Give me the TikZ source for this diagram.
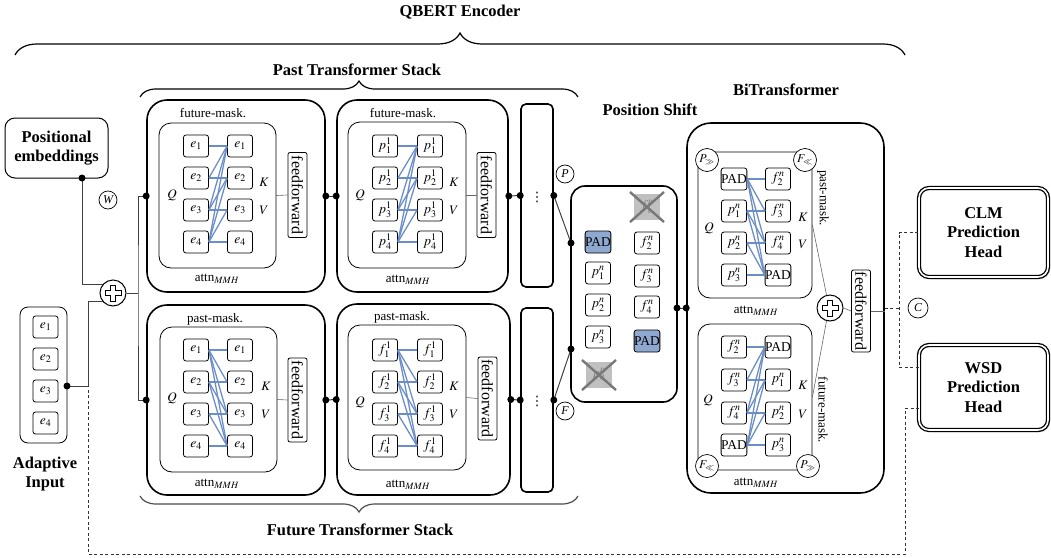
\documentclass[tikz,border=0pt]{standalone}
\usepackage{mathptmx}
\usepackage{fontspec}
\setmainfont{Liberation Serif}
\newfontfamily\djv{DejaVu Sans}
\usetikzlibrary{decorations.pathreplacing,shadows,calc}
\definecolor{attblue}{RGB}{108,142,198}
\definecolor{padblue}{RGB}{143,168,208}
\definecolor{xgray}{RGB}{192,192,192}
\definecolor{xline}{RGB}{120,120,120}
\tikzset{
 sm/.style={font=\fontsize{13}{15}\selectfont},
 big/.style={font=\fontsize{16.5}{19.5}\selectfont\bfseries},
 blkbox/.style={draw, line width=1.6pt, rounded corners=20pt, inner sep=0},
 innbox/.style={draw, line width=0.8pt, rounded corners=12pt, inner sep=0},
 tok/.style={draw, line width=0.8pt, rounded corners=2.5pt, minimum width=25pt, minimum height=22pt, inner sep=0, fill=white, font=\fontsize{13.5}{15}\selectfont},
 padtok/.style={tok, fill=padblue},
 ffbox/.style={draw, line width=0.8pt, rounded corners=2pt, rotate=-90, minimum height=19pt, inner sep=1pt, font=\fontsize{16}{18}\selectfont},
 att/.style={draw=attblue, line width=1.3pt},
 dotn/.style={circle, fill=black, inner sep=0, minimum size=7pt},
 lc/.style={draw, circle, line width=0.7pt, inner sep=0, minimum size=18pt, fill=white, font=\fontsize{12}{14}\selectfont\itshape},
 conn/.style={draw=black!75, line width=1pt},
 thinconn/.style={draw=black!60, line width=0.6pt},
 dconn/.style={draw=black!80, line width=0.9pt, dash pattern=on 3pt off 2.5pt},
 plusc/.style={draw, circle, line width=1pt, minimum size=26pt, inner sep=0, fill=white},
 head/.style={draw, line width=1.3pt, double=white, double distance=1.6pt, rounded corners=10pt, fill=white, drop shadow={shadow xshift=2pt, shadow yshift=-2pt, fill=black!40}, big, align=center, inner sep=0},
 crossbox/.style={fill=xgray, minimum size=26pt, inner sep=0, text=black!50, font=\fontsize{13.5}{15}\selectfont},
 xstroke/.style={draw=xline, line width=2.4pt},
 brc/.style={decorate, decoration={brace, amplitude=#1}, line width=1.2pt},
}
\newcommand\tokcolsym[5]{\foreach \ii in {1,...,4}{\node[tok] (#1\ii) at (#2,{#3+(\ii-1)*#4}) {$#5_{\ii}$};}}
\newcommand\futmask[2]{\foreach \i in {1,...,4}{\foreach \j in {1,...,\i}{\draw[att] (#1\i.east) -- (#2\j.west);}}}
\newcommand\pastmask[2]{\foreach \i in {1,...,4}{\foreach \j in {\i,...,4}{\draw[att] (#1\i.east) -- (#2\j.west);}}}
\newcommand\hollowplus[1]{\draw[line width=0.9pt, shift={(#1.center)}] (-2.6,-8) -- (2.6,-8) -- (2.6,-2.6) -- (8,-2.6) -- (8,2.6) -- (2.6,2.6) -- (2.6,8) -- (-2.6,8) -- (-2.6,2.6) -- (-8,2.6) -- (-8,-2.6) -- (-2.6,-2.6) -- cycle;}
\newcommand\crossout[1]{\draw[xstroke] ($(#1)+(-17,-15)$) -- ($(#1)+(17,15)$); \draw[xstroke] ($(#1)+(-17,15)$) -- ($(#1)+(17,-15)$);}
\begin{document}
\begin{tikzpicture}[x=1pt,y=-1pt]
\useasboundingbox (0,0) rectangle (1051,557);

% ---------- titles and braces ----------
\node[big] (tq) at (460,12) {QBERT Encoder};
\draw[brc=22pt] (15,55) -- (905,55);
\node[big] (tp) at (357,70) {Past Transformer Stack};
\draw[brc=16pt] (140,97) -- (578,97);
\node[big] (tf) at (360,530) {Future Transformer Stack};
\draw[brc=16pt, draw=black!70] (578,496) -- (140,496);
\node[big] (tps) at (650,110) {Position Shift};
\node[big] (tbi) at (786,90) {BiTransformer};

% ---------- inputs ----------
\node[draw, line width=1pt, rounded corners=10pt, minimum width=103pt, minimum height=60pt, big, align=center, inner sep=0] (pos) at (56.5,148) {Positional\\embeddings};
\coordinate (posout) at (82,178);
\node[lc] (W) at (108,200) {W};
\node[draw, line width=0.8pt, rounded corners=8pt, minimum width=47pt, minimum height=136pt] (ai) at (43.5,375) {};
\tokcolsym{ait}{45.5}{327}{32}{e}
\node[big, align=center] (ail) at (45,474) {Adaptive\\Input};
\coordinate (aiout) at (67,386);
\coordinate (aijoin) at (88,386);
\node[plusc] (plusL) at (113,293) {};
\hollowplus{plusL}
\coordinate (bus) at (138,293);

% ---------- past block 1 ----------
\node[blkbox, minimum width=178pt, minimum height=192pt] (pb1) at (236,196) {};
\node[innbox, minimum width=117pt, minimum height=145pt] (pb1i) at (217.5,195.5) {};
\node[sm] (pb1m) at (213,113) {future-mask.};
\tokcolsym{pb1q}{196}{146}{32}{e}
\tokcolsym{pb1k}{240}{146}{32}{e}
\futmask{pb1q}{pb1k}
\node[sm] (pb1Q) at (172,195) {$Q$};
\node[sm] (pb1K) at (264,182) {$K$};
\node[sm] (pb1V) at (264,210) {$V$};
\node[ffbox, minimum width=85pt] (pb1f) at (297.5,195) {feedforward};
\draw[thinconn] (pb1i.east) -- (pb1f.south);
\node[sm] (pb1a) at (217,279) {attn$_{MMH}$};

% ---------- past block 2 ----------
\node[blkbox, minimum width=171pt, minimum height=192pt] (pb2) at (422.5,196) {};
\node[innbox, minimum width=118pt, minimum height=146pt] (pb2i) at (407,195) {};
\node[sm] (pb2m) at (403,113) {future-mask.};
\tokcolsym{pb2q}{385}{146}{32}{p^1}
\tokcolsym{pb2k}{430}{146}{32}{p^1}
\futmask{pb2q}{pb2k}
\node[sm] (pb2Q) at (360,195) {$Q$};
\node[sm] (pb2K) at (454,182) {$K$};
\node[sm] (pb2V) at (454,210) {$V$};
\node[ffbox, minimum width=85pt] (pb2f) at (486.5,195) {feedforward};
\draw[thinconn] (pb2i.east) -- (pb2f.south);
\node[sm] (pb2a) at (408,280) {attn$_{MMH}$};
\node[blkbox, rounded corners=5pt, minimum width=32pt, minimum height=183pt] (st1) at (537,195.5) {};
\node[font=\djv\fontsize{13}{15}\selectfont, inner sep=0] (st1d) at (537,197) {⋮};

% ---------- future block 1 ----------
\node[blkbox, minimum width=178pt, minimum height=190pt] (fb1) at (236,400) {};
\node[innbox, minimum width=117pt, minimum height=145pt] (fb1i) at (218.5,399.5) {};
\node[sm] (fb1m) at (215,319) {past-mask.};
\tokcolsym{fb1q}{196}{350}{32}{e}
\tokcolsym{fb1k}{240}{350}{32}{e}
\pastmask{fb1q}{fb1k}
\node[sm] (fb1Q) at (172,398) {$Q$};
\node[sm] (fb1K) at (266,386) {$K$};
\node[sm] (fb1V) at (266,414) {$V$};
\node[ffbox, minimum width=84pt] (fb1f) at (297.5,400) {feedforward};
\draw[thinconn] (fb1i.east) -- (fb1f.south);
\node[sm] (fb1a) at (217,484) {attn$_{MMH}$};

% ---------- future block 2 ----------
\node[blkbox, minimum width=173pt, minimum height=191pt] (fb2) at (423.5,399.5) {};
\node[innbox, minimum width=118pt, minimum height=145pt] (fb2i) at (407,397.5) {};
\node[sm] (fb2m) at (402,317) {past-mask.};
\tokcolsym{fb2q}{385}{350}{32}{f^1}
\tokcolsym{fb2k}{430}{350}{32}{f^1}
\pastmask{fb2q}{fb2k}
\node[sm] (fb2Q) at (360,402) {$Q$};
\node[sm] (fb2K) at (454,386) {$K$};
\node[sm] (fb2V) at (454,414) {$V$};
\node[ffbox, minimum width=83pt] (fb2f) at (487.5,398.5) {feedforward};
\draw[thinconn] (fb2i.east) -- (fb2f.south);
\node[sm] (fb2a) at (408,485) {attn$_{MMH}$};
\node[blkbox, rounded corners=5pt, minimum width=32pt, minimum height=184pt] (st2) at (537,400) {};
\node[font=\djv\fontsize{13}{15}\selectfont, inner sep=0] (st2d) at (537,401) {⋮};

% ---------- left wiring ----------
\draw[conn] (posout) |- (plusL.140);
\draw[conn] (aiout) -- (aijoin) |- (plusL.220);
\draw[conn] (plusL.east) -- (bus);
\draw[conn] (pb1.west) -| (bus) |- (fb1.west);
\draw[conn] (pb1.east) -- (pb2.west);
\draw[conn] (pb2.east) -- (st1.west);
\draw[conn] (fb1.east) -- (fb2.west);
\draw[conn] (fb2.east) -- (st2.west);

% ---------- position shift ----------
\node[blkbox, rounded corners=14pt, minimum width=106pt, minimum height=216pt] (ps) at (624,294) {};
\node[padtok] (psl1) at (598,242) {PAD};
\node[tok] (psl2) at (598,273) {$p_1^n$};
\node[tok] (psl3) at (598,305) {$p_2^n$};
\node[tok] (psl4) at (598,337) {$p_3^n$};
\node[crossbox] (psl5) at (599,375) {$p_4^n$};
\crossout{psl5}
\node[crossbox] (psr1) at (647,207) {$f_1^n$};
\crossout{psr1}
\node[tok] (psr2) at (647,243) {$f_2^n$};
\node[tok] (psr3) at (647,276) {$f_3^n$};
\node[tok] (psr4) at (647,307) {$f_4^n$};
\node[padtok] (psr5) at (647,341) {PAD};
\coordinate (psinP) at (571,243);
\coordinate (psinF) at (571,349);
\coordinate (psout) at (677,308);
\node[lc] (Pc) at (565,174) {P};
\node[lc] (Fc) at (565,411) {F};
\draw[conn] (st1.east) -- (psinP);
\draw[conn] (st2.east) -- (psinF);

% ---------- BiTransformer ----------
\node[blkbox, rounded corners=24pt, minimum width=197pt, minimum height=370pt] (bi) at (785.5,308) {};
\draw[conn] (psout) -- (bi.west);
% upper attention
\node[innbox, minimum width=114pt, minimum height=146pt] (bu) at (755,225) {};
\node[tok] (buq1) at (734,179) {PAD};
\node[tok] (buq2) at (734,211) {$p_1^n$};
\node[tok] (buq3) at (734,243) {$p_2^n$};
\node[tok] (buq4) at (734,275) {$p_3^n$};
\node[tok] (buk1) at (778,179) {$f_2^n$};
\node[tok] (buk2) at (778,211) {$f_3^n$};
\node[tok] (buk3) at (778,243) {$f_4^n$};
\node[tok] (buk4) at (778,275) {PAD};
\pastmask{buq}{buk}
\node[lc, minimum size=23pt] (buP) at (707,160) {$P_{\gg}$};
\node[lc, minimum size=23pt] (buF) at (805,160) {$F_{\ll}$};
\node[sm] (buQ) at (709,228) {$Q$};
\node[sm] (buK) at (803,217) {$K$};
\node[sm] (buV) at (803,244) {$V$};
\node[sm, rotate=-90] (bum) at (823,198) {past-mask.};
\node[sm] (bua) at (756,311) {attn$_{MMH}$};
% lower attention
\node[innbox, minimum width=114pt, minimum height=146pt] (bl) at (755,397) {};
\node[tok] (blq1) at (734,347) {$f_2^n$};
\node[tok] (blq2) at (734,380) {$f_3^n$};
\node[tok] (blq3) at (734,413) {$f_4^n$};
\node[tok] (blq4) at (734,445) {PAD};
\node[tok] (blr1) at (778,347) {PAD};
\node[tok] (blr2) at (778,380) {$p_1^n$};
\node[tok] (blr3) at (778,413) {$p_2^n$};
\node[tok] (blr4) at (778,445) {$p_3^n$};
\futmask{blq}{blr}
\node[lc, minimum size=23pt] (blF) at (707,466) {$F_{\ll}$};
\node[lc, minimum size=23pt] (blP) at (808,466) {$P_{\gg}$};
\node[sm] (blQ) at (708,400) {$Q$};
\node[sm] (blK) at (803,385) {$K$};
\node[sm] (blV) at (803,414) {$V$};
\node[sm, rotate=-90] (blm) at (823,410) {future-mask.};
\node[sm] (bla) at (756,483) {attn$_{MMH}$};
% merge
\node[plusc] (plusB) at (830,308) {};
\hollowplus{plusB}
\node[ffbox, minimum width=82pt] (ffB) at (861,311) {feedforward};
\draw[thinconn] (bu.east) -- (plusB.105);
\draw[thinconn] (bl.east) -- (plusB.255);
\draw[thinconn] (plusB.east) -- (ffB.south);
\draw[thinconn] (ffB.north) -- (ffB.north -| bi.east);

% ---------- heads ----------
\node[head, minimum width=129pt, minimum height=89pt] (clm) at (983.5,232.5) {CLM\\Prediction\\Head};
\node[head, minimum width=129pt, minimum height=85pt] (wsd) at (983.5,387.5) {WSD\\Prediction\\Head};
\node[lc, minimum size=20pt] (Cc) at (918,308) {C};
\coordinate (rj) at (899,308);
\coordinate (rt) at (899,232.5);
\coordinate (rb) at (899,367);
\coordinate (wsdin1) at (919,367);
\coordinate (wsdin2) at (919,408);
\coordinate (lr) at (905,554);
\coordinate (ll) at (88,554);
\draw[dconn] (bi.east) -- (rj);
\draw[dconn] (clm.west) -- (rt) -- (rb) -- (wsdin1);
\draw[dconn] (wsdin2) -| (lr) -- (ll) -- (aijoin);

% ---------- dots ----------
\foreach \p in {posout, aiout, pb1.west, pb1.east, pb2.west, pb2.east, st1.west, st1.east, fb1.west, fb1.east, fb2.west, fb2.east, st2.west, st2.east, psinP, psinF, psout, bi.west}
  \node[dotn] at (\p) {};
\end{tikzpicture}
\end{document}
